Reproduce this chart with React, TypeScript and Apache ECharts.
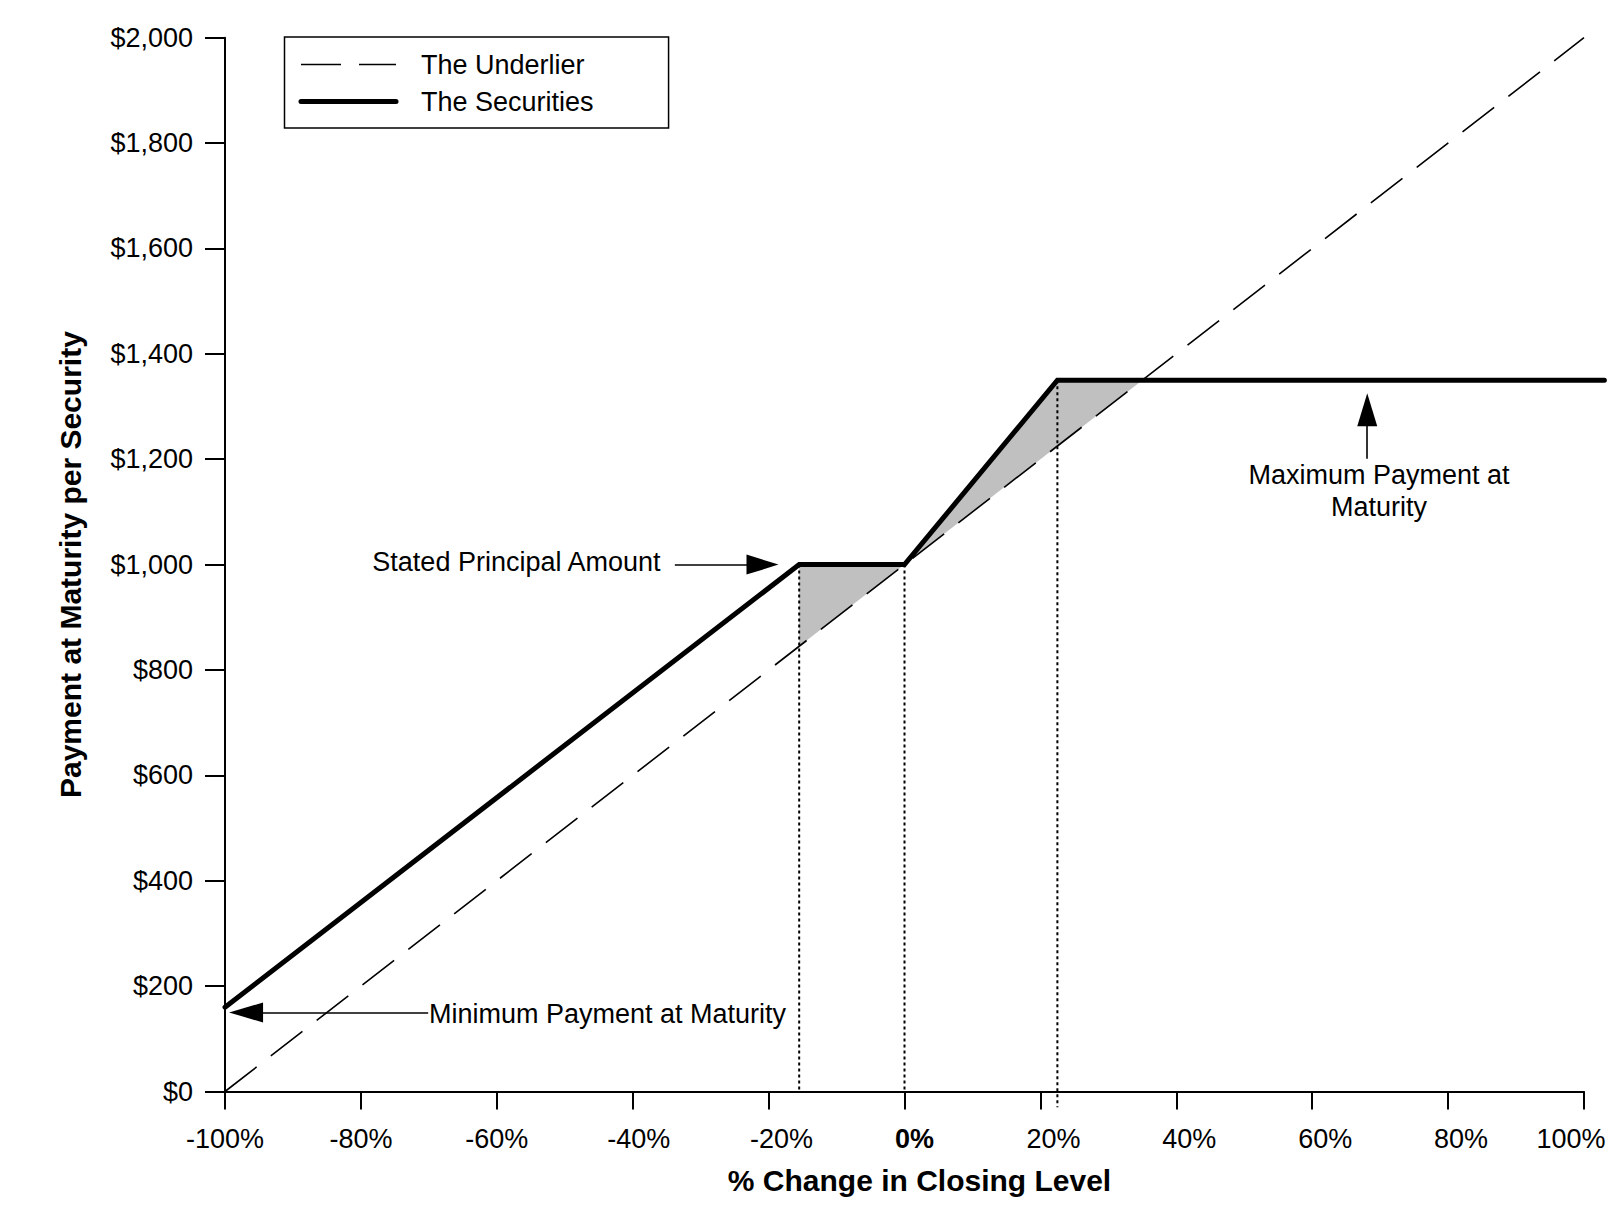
import React, { useEffect, useRef } from "react";
import * as echarts from "echarts";

// ---- data ----
const underlierPct = [-100, 100];
const underlierPay = [0, 2000];
const securitiesPct = [-100, -15.5, 0, 22.5, 103];
const securitiesPay = [160, 1000, 1000, 1350, 1350];
const shadeLeft = [[-15.5, 1000], [0, 1000], [-15.5, 845]];
const shadeRight = [[0, 1000], [22.5, 1350], [35, 1350]];
const guidePct = [-15.5, 0, 22.5];
const guideTop = [1000, 1000, 1350];
const guideBottom = [0, 0, -30];
const xMin = -100, xMax = 100, xStep = 20;
const xMaxExt = 103;
const yMin = 0, yMax = 2000, yStep = 200;
const seriesNames = ["The Underlier", "The Securities"];

const FONT = '"Liberation Sans", Arial, sans-serif';

const GRID_LEFT = 225;
const GRID_RIGHT = 29;
const GRID_TOP = 37.7;
const GRID_BOTTOM = 125.5;
const PLOT_W = 1613 - GRID_LEFT - GRID_RIGHT;

function xLabelStyleKey(v: number): string {
  if (v === 0) return "z";
  if (v === 100) return "e";
  if (v === -40) return "h";
  if (v >= -20) return "s";
  return "n";
}

export default function App() {
  const ref = useRef<HTMLDivElement>(null);
  useEffect(() => {
    if (!ref.current) return;
    const chart = echarts.init(ref.current, undefined, { renderer: "svg" });
    const polys = [shadeLeft, shadeRight];
    const extRight = GRID_RIGHT - (PLOT_W * (xMaxExt - xMax)) / (xMax - xMin);
    const guides = guidePct.map((p, i) => ({
      type: "line",
      data: [[p, guideTop[i]], [p, guideBottom[i]]],
      symbol: "none",
      clip: false,
      silent: true,
      z: 2,
      lineStyle: { color: "#000", width: 2, type: [3, 3] },
    }));
    const lbl = { fontSize: 27, color: "#000", fontFamily: FONT };
    const option: any = {
      animation: false,
      backgroundColor: "#fff",
      textStyle: { fontFamily: FONT },
      grid: [
        { left: GRID_LEFT, right: GRID_RIGHT, top: GRID_TOP, bottom: GRID_BOTTOM, containLabel: false, outerBoundsMode: "none" },
        { left: GRID_LEFT, right: extRight, top: GRID_TOP, bottom: GRID_BOTTOM, containLabel: false, outerBoundsMode: "none" },
      ],
      legend: {
        data: [
          { name: seriesNames[0], lineStyle: { width: 1.6, type: [40, 18], color: "#000" } },
          { name: seriesNames[1], lineStyle: { width: 5, cap: "round", color: "#000", type: "solid" } },
        ],
        orient: "vertical",
        left: 284.5,
        top: 37,
        padding: [14, 75, 13, 14],
        itemGap: 10,
        itemWidth: 95,
        itemHeight: 14,
        itemStyle: { opacity: 0 },
        borderColor: "#000",
        borderWidth: 1.5,
        backgroundColor: "#fff",
        selectedMode: false,
        textStyle: { fontSize: 27, color: "#000", fontFamily: FONT, padding: [0, 0, 0, 20] },
      },
      xAxis: [
        {
          type: "value",
          gridIndex: 0,
          min: xMin,
          max: xMax,
          interval: xStep,
          name: "% Change in Closing Level",
          nameLocation: "middle",
          nameGap: 74,
          nameTextStyle: { fontSize: 30, fontWeight: "bold", color: "#000", fontFamily: FONT, padding: [0, 0, 0, 30] },
          axisLine: { onZero: false, lineStyle: { color: "#000", width: 2 } },
          axisTick: { length: 18, lineStyle: { color: "#000", width: 2 } },
          splitLine: { show: false },
          axisLabel: {
            margin: 34,
            fontSize: 27,
            color: "#000",
            fontFamily: FONT,
            formatter: (v: number) => "{" + xLabelStyleKey(v) + "|" + v + "%}",
            rich: {
              n: { ...lbl },
              s: { ...lbl, padding: [0, 0, 0, 26] },
              h: { ...lbl, padding: [0, 0, 0, 12] },
              z: { ...lbl, fontWeight: "bold", padding: [0, 0, 0, 20] },
              e: { ...lbl, padding: [0, 26, 0, 0] },
            },
          },
        },
        {
          type: "value",
          gridIndex: 1,
          min: xMin,
          max: xMaxExt,
          show: false,
        },
      ],
      yAxis: [
        {
          type: "value",
          gridIndex: 0,
          min: yMin,
          max: yMax,
          interval: yStep,
          name: "Payment at Maturity per Security",
          nameLocation: "middle",
          nameGap: 140,
          nameRotate: 90,
          nameTextStyle: { fontSize: 30, fontWeight: "bold", color: "#000", fontFamily: FONT },
          axisLine: { show: true, onZero: false, lineStyle: { color: "#000", width: 2 } },
          axisTick: { show: true, length: 20, lineStyle: { color: "#000", width: 2 } },
          splitLine: { show: false },
          axisLabel: {
            margin: 32,
            fontSize: 27,
            color: "#000",
            fontFamily: FONT,
            formatter: (v: number) => "$" + v.toLocaleString("en-US"),
          },
        },
        {
          type: "value",
          gridIndex: 1,
          min: yMin,
          max: yMax,
          show: false,
        },
      ],
      series: [
        {
          type: "custom",
          name: "shade",
          silent: true,
          z: 1,
          data: polys.map((p) => p[0]),
          renderItem: (params: any, api: any) => {
            const poly = polys[params.dataIndex];
            return {
              type: "polygon",
              shape: { points: poly.map((pt) => api.coord(pt)) },
              style: { fill: "#c0c0c0", stroke: "none" },
            };
          },
        },
        {
          type: "line",
          name: seriesNames[0],
          data: underlierPct.map((p, i) => [p, underlierPay[i]]),
          symbol: "none",
          z: 3,
          color: "#000",
          lineStyle: { color: "#000", width: 1.6, type: [40, 18] },
        },
        ...guides,
        {
          type: "line",
          name: seriesNames[1],
          xAxisIndex: 1,
          yAxisIndex: 1,
          data: securitiesPct.map((p, i) => [p, securitiesPay[i]]),
          symbol: "none",
          z: 4,
          color: "#000",
          lineStyle: { color: "#000", width: 5, cap: "round", join: "miter" },
        },
        {
          type: "line",
          name: "arrows",
          data: [],
          symbol: "none",
          z: 5,
          markLine: {
            silent: true,
            animation: false,
            label: { show: false },
            lineStyle: { color: "#000", width: 1.6, type: "solid" },
            itemStyle: { color: "#000" },
            data: [
              [
                { coord: [-33.8, 1000], symbol: "none" },
                { coord: [-20.9, 1000], symbol: "triangle", symbolSize: [20, 32] },
              ],
              [
                { coord: [-70.1, 150], symbol: "none" },
                { coord: [-96.9, 150], symbol: "triangle", symbolSize: [20, 34] },
              ],
              [
                { coord: [68.1, 1201], symbol: "none" },
                { coord: [68.1, 1294], symbol: "triangle", symbolSize: [20, 33] },
              ],
            ],
          },
        },
      ],
      graphic: [
        {
          type: "text",
          right: 1613 - 662,
          top: 563 - 15,
          style: { text: "Stated Principal Amount", fontSize: 27, fill: "#000", fontFamily: FONT },
        },
        {
          type: "text",
          left: 429,
          top: 1015 - 15,
          style: { text: "Minimum Payment at Maturity", fontSize: 27, fill: "#000", fontFamily: FONT },
        },
        {
          type: "text",
          x: 1379,
          y: 491,
          style: {
            text: "Maximum Payment at\nMaturity",
            fontSize: 27,
            lineHeight: 32,
            fill: "#000",
            fontFamily: FONT,
            align: "center",
            verticalAlign: "middle",
          },
        },
      ],
    };
    chart.setOption(option);
    return () => chart.dispose();
  }, []);
  return (
    <div
      ref={ref}
      style={{ position: "fixed", left: 0, top: 0, width: 1613, height: 1217, background: "#fff" }}
    />
  );
}
